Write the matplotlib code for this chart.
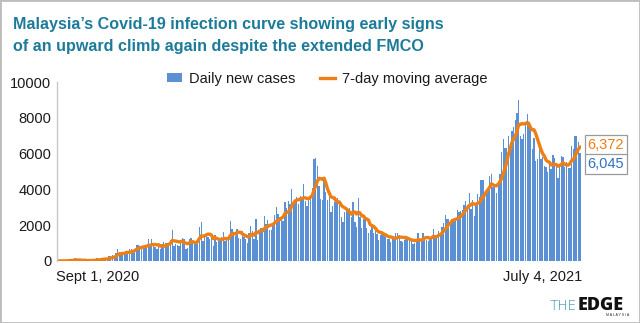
import matplotlib
matplotlib.use("Agg")
import matplotlib.pyplot as plt
from matplotlib.patches import Rectangle, Patch
from matplotlib.lines import Line2D
import numpy as np
import pandas as pd

# ---- data: daily new cases, Sept 1, 2020 .. July 4, 2021 ----
sep_2020 = [6, 5, 6, 10, 5, 9, 62, 100, 4, 23, 182, 13, 15, 7, 16, 21, 62, 18, 24, 57,
            11, 23, 82, 147, 111, 82, 115, 150, 101, 89]
oct_2020 = [260, 287, 317, 293, 432, 691, 489, 374, 354, 373, 561, 563, 660, 660, 589, 629,
            869, 871, 865, 862, 732, 847, 710, 1228, 823, 1240, 835, 801, 649, 799, 659]
nov_2020 = [957, 1054, 1032, 1032, 1009, 1168, 1755, 852, 972, 869, 822, 1162, 1304, 1208, 659,
            710, 1210, 1290, 1168, 1041, 1096, 1209, 1884, 2188, 1109, 1315, 1464, 1315, 1245, 1472]
dec_2020 = [851, 1472, 1075, 1141, 1123, 1335, 1600, 1123, 1229, 1259, 2234, 1810, 1529, 1371,
            1772, 1295, 1220, 1684, 1340, 1229, 1018, 1589, 1974, 1689, 1247, 2335, 1196, 1594,
            1870, 1870, 2525]
jan_2021 = [2068, 2295, 1704, 1741, 2027, 2593, 3027, 2643, 2451, 2295, 2232, 3309, 2985, 3337,
            3211, 4029, 3339, 3306, 3585, 3170, 3631, 3394, 4275, 3346, 3048, 3585, 3680, 4094,
            5725, 5728, 5298]
feb_2021 = [4214, 3455, 3391, 4571, 3847, 3391, 3731, 2764, 3100, 3288, 3384, 3499, 3318, 2464,
            2176, 2720, 2835, 2712, 2936, 2461, 3297, 2192, 1924, 3545, 2468, 1828, 2364, 2437]
mar_2021 = [1828, 1555, 1745, 2063, 1575, 1683, 1529, 1154, 1470, 1529, 1575, 1340, 1208, 1217,
            1063, 1309, 1213, 1575, 1565, 1460, 1129, 1051, 1196, 1205, 1275, 1309, 1133, 941,
            1010, 1111, 1570]
apr_2021 = [1183, 1205, 1591, 1349, 1154, 1139, 1285, 1358, 1767, 1431, 1349, 1668, 1431, 1889,
            2148, 2551, 2340, 2341, 2078, 2341, 2257, 2340, 2875, 2717, 2776, 2848, 3142, 3332,
            3142, 3788]
may_2021 = [2881, 3418, 2500, 3120, 3744, 3551, 4498, 4519, 3780, 3807, 3973, 4765, 4855, 4113,
            4140, 3780, 4446, 4865, 6075, 6806, 6320, 6320, 6976, 6509, 7289, 7478, 7857, 8290,
            9020, 6999, 6824]
jun_2021 = [7105, 7703, 8209, 7748, 7452, 6241, 6849, 5566, 5671, 6239, 5671, 5793, 5304, 5271,
            4949, 5419, 5150, 5911, 5744, 5293, 4611, 5244, 5841, 5812, 5244, 5520, 5190, 5218,
            6437, 6276]
jul_2021 = [6988, 6982, 6658, 6045]

daily_cases = (sep_2020 + oct_2020 + nov_2020 + dec_2020 + jan_2021 + feb_2021 +
               mar_2021 + apr_2021 + may_2021 + jun_2021 + jul_2021)
dates = pd.date_range("2020-09-01", "2021-07-04", freq="D")
series = pd.Series(daily_cases, index=dates)
moving_avg = series.rolling(7, min_periods=1).mean()

y_ticks = [0, 2000, 4000, 6000, 8000, 10000]
x_labels = ["Sept 1, 2020", "July 4, 2021"]
title_lines = ["Malaysia\u2019s Covid-19 infection curve showing early signs",
               "of an upward climb again despite the extended FMCO"]
legend_labels = ["Daily new cases", "7-day moving average"]

# ---- style ----
BAR = "#5b91d4"
ORANGE = "#ee7f14"
TEAL = "#1d7b9a"
TXT = "#1a1a1a"
FONT = "Liberation Sans"

W, H = 640, 323
fig = plt.figure(figsize=(W / 100, H / 100), dpi=100)
fig.patch.set_facecolor("white")

def fx(px):
    return px / W

def fy(py):
    return 1 - py / H

ax = fig.add_axes([fx(57), fy(261), fx(581) - fx(57), fy(82) - fy(261)])
x = np.arange(len(series))
ax.bar(x, series.values, width=0.78, color=BAR, linewidth=0)
ax.plot(x, moving_avg.values, color=ORANGE, lw=2.4, solid_capstyle="round")
ax.set_xlim(-0.5, len(series) - 0.5)
ax.set_ylim(0, 10000)
ax.set_yticks(y_ticks)
ax.set_yticklabels([str(v) for v in y_ticks], fontsize=10.5, color=TXT, family=FONT)
ax.tick_params(axis="y", length=0, pad=4)
ax.set_xticks([])
for s in ["top", "right", "bottom"]:
    ax.spines[s].set_visible(False)
ax.spines["left"].set_color("#c8c8c8")
ax.spines["left"].set_linewidth(1.0)

# legend
handles = [Patch(facecolor=BAR, edgecolor="none"),
           Line2D([0], [0], color=ORANGE, lw=2.4)]
ax.legend(handles, legend_labels, loc="center", bbox_to_anchor=((327 - 57) / 524, (261 - 79) / 179),
          ncol=2, frameon=False, prop={"family": FONT, "size": 10.5},
          handlelength=1.05, handleheight=0.6, handletextpad=0.45, columnspacing=1.7,
          labelcolor=TXT)

# x labels
fig.text(fx(56), fy(277), x_labels[0], ha="left", va="center", fontsize=10.5, color=TXT, family=FONT)
fig.text(fx(582), fy(277), x_labels[1], ha="right", va="center", fontsize=10.5, color=TXT, family=FONT)

# end value labels
last_ma = moving_avg.values[-1]
last_day = series.values[-1]
box = dict(boxstyle="square,pad=0.18", fc="white", ec="#9a9a9a", lw=0.9)
fig.text(fx(606), fy(145), f"{last_ma:,.0f}", ha="center", va="center", fontsize=10.5,
         color=ORANGE, family=FONT, bbox=box)
fig.text(fx(606), fy(164), f"{last_day:,.0f}", ha="center", va="center", fontsize=10.5,
         color="#2f74c0", family=FONT, bbox=box)

# title
fig.text(fx(13), fy(29), title_lines[0], ha="left", va="baseline", fontsize=11.6,
         fontweight="bold", color=TEAL, family=FONT)
fig.text(fx(13), fy(51), title_lines[1], ha="left", va="baseline", fontsize=11.6,
         fontweight="bold", color=TEAL, family=FONT)

# logo
fig.text(fx(577), fy(310), "THE", ha="right", va="baseline", fontsize=9.8, color="#2b8aa3",
         family="DejaVu Sans", fontweight="light")
fig.text(fx(577.5), fy(310), "EDGE", ha="left", va="baseline", fontsize=13,
         color="#111111", family=["Open Sans", "DejaVu Sans"], fontweight="heavy")
fig.text(fx(618), fy(316.5), "M A L A Y S I A", ha="center", va="baseline", fontsize=2.6,
         color="#333333", family=FONT)

# border
fig.add_artist(Rectangle((0, 0), 1, 1, transform=fig.transFigure, fill=False,
                         edgecolor="#bdbdbd", lw=2.0))

fig.savefig("out.png", dpi=100, facecolor="white")
